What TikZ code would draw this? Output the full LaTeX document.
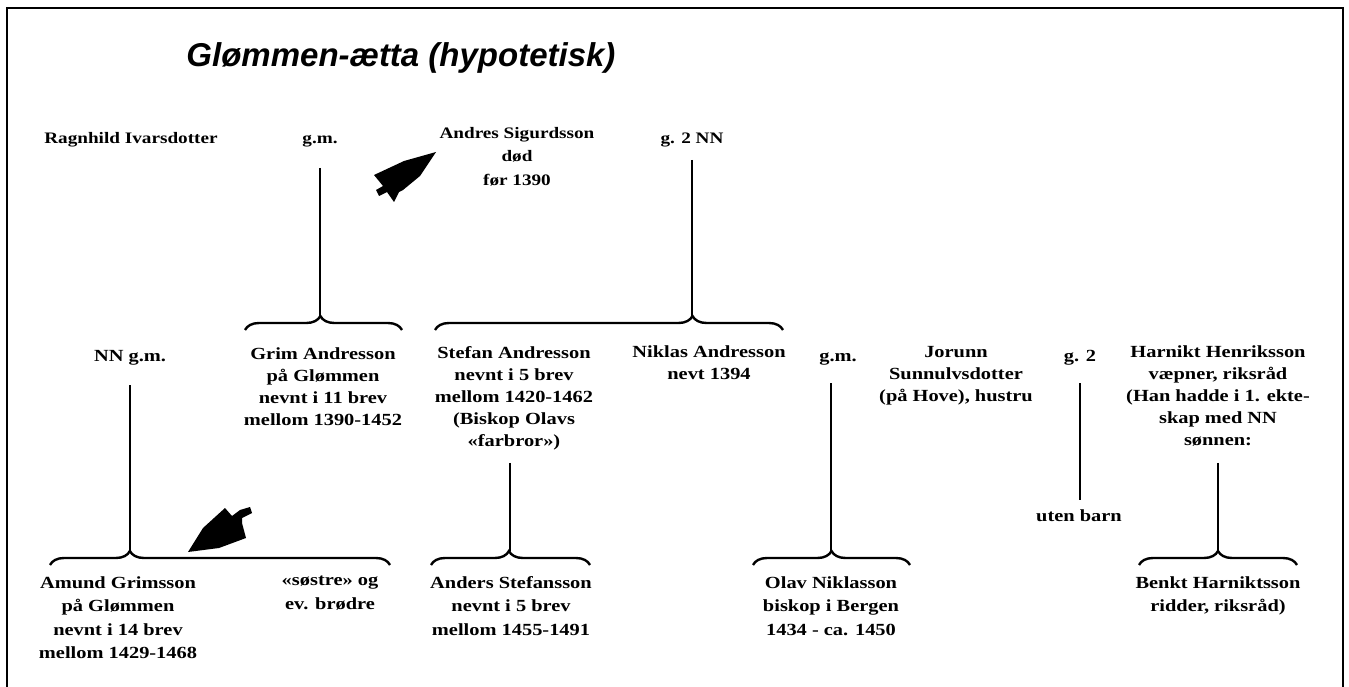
\documentclass[tikz,border=0pt]{standalone}
\usepackage{fontspec}
\usetikzlibrary{positioning, decorations.pathreplacing}
\newfontfamily\treefont{Liberation Serif}[FakeStretch=1.2]
\newfontfamily\headfont{Liberation Sans}

\begin{document}
\begin{tikzpicture}[x=1pt,y=-1pt,
    person/.style={align=center,inner sep=0pt,anchor=north,
      execute at begin node=\strut,
      font=\treefont\bfseries\fontsize{17}{22}\selectfont},
    loose/.style={person,font=\treefont\bfseries\fontsize{17}{23.5}\selectfont},
    upper/.style={person,font=\treefont\bfseries\fontsize{16}{23.5}\selectfont},
    stem/.style={line width=1.4pt},
    bracket/.style={line width=2.4pt,decorate,
      decoration={brace,amplitude=14pt,aspect=#1}},
    bracket/.default=0.5]
  \useasboundingbox (0,0) rectangle (1349,687);
  \draw[line width=1.3pt] (7,687) -- (7,8) -- (1343,8) -- (1343,687);

  \node[anchor=base,inner sep=0pt,
    font=\headfont\bfseries\itshape\fontsize{33}{40}\selectfont]
    (title) at (401,67) {Glømmen-ætta (hypotetisk)};

  % first generation
  \node[upper] (ragnhild) at (131,127) {Ragnhild Ivarsdotter};
  \node[upper] (gmA) at (320,127) {g.m.};
  \node[upper] (andres) at (517,127) {Andres Sigurdsson\\død\\før 1390};
  \node[upper] (gNN) at (692,127) {g. 2 NN};

  % second generation
  \node[person] (nngm) at (130,346) {NN g.m.};
  \node[person] (grim) at (323,348) {Grim Andresson\\på Glømmen\\nevnt i 11 brev\\mellom 1390-1452};
  \node[person] (stefan) at (514,346) {Stefan Andresson\\nevnt i 5 brev\\mellom 1420-1462\\(Biskop Olavs\\«farbror»)};
  \node[person] (niklas) at (709,346) {Niklas Andresson\\nevt 1394};
  \node[person] (gmB) at (838,346) {g.m.};
  \node[person] (jorunn) at (956,346) {Jorunn\\Sunnulvsdotter\\(på Hove), hustru};
  \node[person] (gtwo) at (1080,346) {g. 2};
  \node[person] (harnikt) at (1218,346) {Harnikt Henriksson\\væpner, riksråd\\(Han hadde i 1. ekte-\\skap med NN\\sønnen:};
  \node[person] (uten) at (1079,506) {uten barn};

  % third generation
  \node[loose] (amund) at (118,576) {Amund Grimsson\\på Glømmen\\nevnt i 14 brev\\mellom 1429-1468};
  \node[loose] (sostre) at (330,576) {«søstre» og\\ev. brødre};
  \node[loose] (anders) at (511,576) {Anders Stefansson\\nevnt i 5 brev\\mellom 1455-1491};
  \node[loose] (olav) at (831,576) {Olav Niklasson\\biskop i Bergen\\1434 - ca. 1450};
  \node[loose] (benkt) at (1218,576) {Benkt Harniktsson\\ridder, riksråd)};

  % brace tips
  \coordinate (tipGrim) at (320,316);
  \coordinate (tipSons) at (692,316);
  \coordinate (tipAmund) at (130,551);
  \coordinate (tipAnders) at (510,551);
  \coordinate (tipOlav) at (831,551);
  \coordinate (tipBenkt) at (1218,551);

  \draw[bracket=0.48] (245,330) -- (402,330);
  \draw[bracket=0.74] (435,330) -- (783,330);
  \draw[bracket=0.235] (50,565) -- (390,565);
  \draw[bracket=0.49] (431,565) -- (590,565);
  \draw[bracket=0.5] (753,565) -- (910,565);
  \draw[bracket=0.5] (1139,565) -- (1297,565);

  \draw[stem,shorten <=17pt] (gmA) -- (tipGrim);
  \draw[stem,shorten <=9pt] (gNN) -- (tipSons);
  \draw[stem,shorten <=17pt] (nngm) -- (tipAmund);
  \draw[stem,shorten <=10pt] (tipAnders |- stefan.south) -- (tipAnders);
  \draw[stem,shorten <=15pt] (tipOlav |- gmB.south) -- (tipOlav);
  \draw[stem,shorten <=15pt,shorten >=6pt] (gtwo) -- (gtwo |- uten.north);
  \draw[stem,shorten <=10pt] (harnikt) -- (tipBenkt);

  % pointers
  \fill (436,152) -- (404,161) -- (374,175) -- (383,186) -- (376,190)
    -- (379,196) -- (387,192) -- (394,202) -- (399,192) -- (403,190)
    -- (420,176) -- cycle;
  \fill (188,552) -- (203,528) -- (225,508) -- (232,516) -- (240,510)
    -- (250,507) -- (252,513) -- (242,518) -- (242,523) -- (246,538)
    -- (219,548) -- cycle;
\end{tikzpicture}
\end{document}
